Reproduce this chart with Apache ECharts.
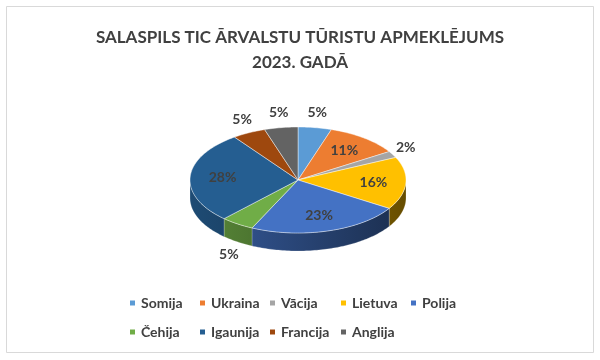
<!DOCTYPE html>
<html><head><meta charset="utf-8">
<script src="https://cdn.jsdelivr.net/npm/echarts@6/dist/echarts.min.js"></script>
<style>html,body{margin:0;padding:0;background:#fff}#c{width:600px;height:360px}</style>
</head><body><div id="c"></div>
<script>
const categories = ['Somija','Ukraina','Vācija','Lietuva','Polija','Čehija','Igaunija','Francija','Anglija'];
const shares = [5, 11, 2, 16, 23, 5, 28, 5, 5];
const colors = ['#5B9BD5','#ED7D31','#A5A5A5','#FFC000','#4472C4','#70AD47','#255E91','#9E480E','#636363'];
const titleText = 'SALASPILS TIC ĀRVALSTU TŪRISTU APMEKLĒJUMS\n2023. GADĀ';

const CX = 298, CY = 180, RX = 108, RY = 53, DEPTH = 18;
const FONT = 'Lato';
const total = shares.reduce((a, b) => a + b, 0);
const starts = []; let acc = 0; shares.forEach(v => { starts.push(acc); acc += v; });

function pt(t, dy) { return [CX + RX * Math.sin(t), CY - RY * Math.cos(t) + (dy || 0)]; }
function darken(hex, f) {
  const n = parseInt(hex.slice(1), 16);
  const r = Math.round(((n >> 16) & 255) * f), g = Math.round(((n >> 8) & 255) * f), b = Math.round((n & 255) * f);
  return 'rgb(' + r + ',' + g + ',' + b + ')';
}

function renderItem(params, api) {
  const i = params.dataIndex;
  const v = api.value(0);
  const a0 = starts[i] / total * 2 * Math.PI, a1 = (starts[i] + v) / total * 2 * Math.PI;
  const children = [];
  const n = Math.max(4, Math.ceil((a1 - a0) / 0.02));
  const top = [[CX, CY]];
  for (let k = 0; k <= n; k++) top.push(pt(a0 + (a1 - a0) * k / n));
  children.push({ type: 'polygon', z2: 10, shape: { points: top },
    style: { fill: colors[i], stroke: 'rgba(255,255,255,0.55)', lineWidth: 0.8 } });
  const f0 = Math.max(a0, Math.PI / 2), f1 = Math.min(a1, 1.5 * Math.PI);
  if (f1 > f0) {
    const m = Math.max(4, Math.ceil((f1 - f0) / 0.02));
    const up = [], lo = [];
    for (let k = 0; k <= m; k++) { const t = f0 + (f1 - f0) * k / m; up.push(pt(t)); lo.push(pt(t, DEPTH)); }
    children.push({ type: 'polygon', z2: 1, shape: { points: up.concat(lo.reverse()) },
      style: { fill: { type: 'linear', x: CX - RX, y: 0, x2: CX + RX, y2: 0, global: true,
        colorStops: [{ offset: 0, color: darken(colors[i], 0.8) }, { offset: 1, color: darken(colors[i], 0.4) }] },
        stroke: 'rgba(255,255,255,0.35)', lineWidth: 0.6 } });
  }
  const mid = (a0 + a1) / 2;
  const pct = Math.round(v / total * 100);
  let lx, ly;
  if (pct >= 8) {
    lx = CX + RX * 0.7 * Math.sin(mid); ly = CY - RY * 0.7 * Math.cos(mid);
  } else {
    const d = 15;
    lx = CX + (RX + d) * Math.sin(mid); ly = CY - (RY + d) * Math.cos(mid);
    if (Math.cos(mid) < 0) ly += DEPTH;
  }
  children.push({ type: 'text', z2: 30, style: { text: pct + '%', x: lx, y: ly, align: 'center', verticalAlign: 'middle',
    fontFamily: FONT, fontWeight: 'bold', fontSize: 14, fill: '#404040' } });
  return { type: 'group', children: children };
}

// legend laid out as a 5-column grid: one vertical legend per column
const legendCols = [130, 200, 270, 341, 411];
const legends = legendCols.map((x, c) => ({
  orient: 'vertical', icon: 'rect', itemWidth: 5, itemHeight: 5, itemGap: 13, left: x, top: 295,
  selectedMode: false, padding: 0,
  data: categories.filter((_, k) => k % 5 === c),
  textStyle: { fontFamily: FONT, fontSize: 14, fontWeight: 'bold', color: '#404040', lineHeight: 16, padding: [0, 0, 0, 1] }
}));

const chart = echarts.init(document.getElementById('c'), null, { renderer: 'canvas' });
chart.setOption({
  animation: false,
  backgroundColor: '#fff',
  color: colors,
  title: { text: titleText, left: 'center', top: 20,
    textStyle: { fontFamily: FONT, fontSize: 17, fontWeight: 'bold', color: '#404040', lineHeight: 25 } },
  legend: legends,
  graphic: [{ type: 'rect', shape: { x: 6.5, y: 6.5, width: 587, height: 346 }, style: { fill: 'none', stroke: '#D9D9D9', lineWidth: 1 }, silent: true }],
  series: [
    { type: 'pie', radius: [0, 0], center: [CX, CY], silent: true, label: { show: false }, labelLine: { show: false },
      data: categories.map((c, i) => ({ name: c, value: shares[i] })) },
    { type: 'custom', coordinateSystem: 'none', renderItem: renderItem, silent: true,
      data: shares.map((v, i) => ({ name: categories[i], value: [v, i] })) }
  ]
});
</script></body></html>
